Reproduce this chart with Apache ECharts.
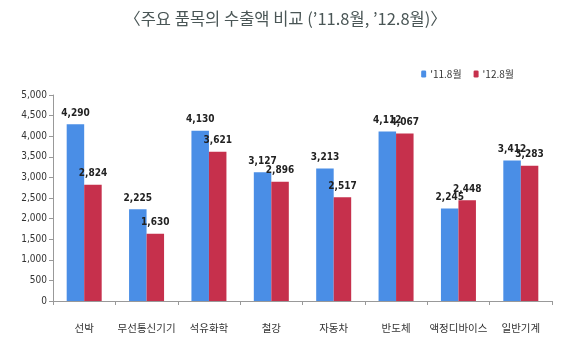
<!DOCTYPE html>
<html><head><meta charset="utf-8">
<script src="https://cdn.jsdelivr.net/npm/echarts@6/dist/echarts.min.js"></script>
<style>html,body{margin:0;padding:0;background:#fff}#c{width:571px;height:358px}</style>
</head><body><div id="c"></div>
<script>
const categories = ['선박','무선통신기기','석유화학','철강','자동차','반도체','액정디바이스','일반기계'];
const series2011 = [4290,2225,4130,3127,3213,4112,2245,3412];
const series2012 = [2824,1630,3621,2896,2517,4067,2448,3283];
const seriesNames = ["'11.8월","'12.8월"];
const yTicks = [0,500,1000,1500,2000,2500,3000,3500,4000,4500,5000];

const chart = echarts.init(document.getElementById('c'));
const fmt = v => v.toLocaleString('en-US');
const lbl = {show:true, position:'top', distance:6, formatter:p=>fmt(p.value), fontSize:10, fontWeight:'bold', color:'#222', fontFamily:'"Liberation Sans Narrow","DejaVu Sans Condensed",sans-serif'};
chart.setOption({
  animation:false,
  title:{text:'〈주요 품목의 수출액 비교 (\u201911.8월, \u201912.8월)〉', left:'center', top:5,
    textStyle:{fontSize:16.5, fontWeight:'normal', color:'#4a5656', fontFamily:'"Noto Sans CJK KR",sans-serif'}},
  legend:{data:seriesNames, right:52, top:64, itemWidth:5, itemHeight:7, itemGap:12,
    textStyle:{fontSize:10, color:'#333', fontFamily:'"Noto Sans CJK KR",sans-serif', padding:[0,0,0,-1]}},
  grid:{left:53, right:19, top:95, bottom:57},
  xAxis:{type:'category', data:categories,
    axisLine:{lineStyle:{color:'#999'}}, axisTick:{show:true, length:4, lineStyle:{color:'#999'}},
    axisLabel:{fontSize:10.5, color:'#333', margin:22, interval:0, fontFamily:'"Noto Sans CJK KR",sans-serif'}},
  yAxis:{type:'value', min:yTicks[0], max:yTicks[yTicks.length-1], interval:500,
    axisLine:{show:true, lineStyle:{color:'#999'}}, axisTick:{show:true, length:4, lineStyle:{color:'#999'}},
    splitLine:{show:false},
    axisLabel:{fontSize:10, color:'#333', margin:6, formatter:v=>fmt(v), fontFamily:'"Liberation Sans Narrow","DejaVu Sans Condensed",sans-serif'}},
  series:[
    {name:seriesNames[0], type:'bar', data:series2011, barWidth:17.5, barGap:'0%', itemStyle:{color:'#4a8ee6'}, label:lbl},
    {name:seriesNames[1], type:'bar', data:series2012, barWidth:17.5, itemStyle:{color:'#c6304c'}, label:lbl}
  ]
});
</script></body></html>
